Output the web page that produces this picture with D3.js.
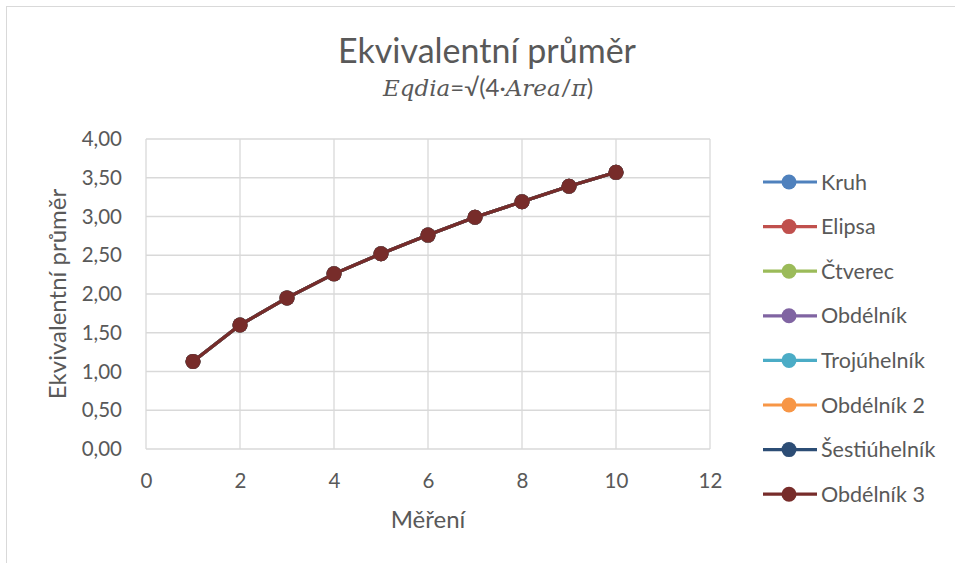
<!DOCTYPE html>
<html><head><meta charset="utf-8">
<script src="https://cdn.jsdelivr.net/npm/d3@7"></script>
<style>html,body{margin:0;padding:0;background:#fff;}svg{display:block;}</style>
</head><body>
<script>
const seriesNames = ["Kruh","Elipsa","Čtverec","Obdélník","Trojúhelník","Obdélník 2","Šestiúhelník","Obdélník 3"];
const seriesColors = ["#4F81BD","#C0504D","#9BBB59","#8064A2","#4BACC6","#F79646","#2C4D75","#772C2A"];
const measurements = [1,2,3,4,5,6,7,8,9,10];
const kruh        = [1.13,1.60,1.95,2.26,2.52,2.76,2.99,3.19,3.39,3.57];
const elipsa      = [1.13,1.60,1.95,2.26,2.52,2.76,2.99,3.19,3.39,3.57];
const ctverec     = [1.13,1.60,1.95,2.26,2.52,2.76,2.99,3.19,3.39,3.57];
const obdelnik    = [1.13,1.60,1.95,2.26,2.52,2.76,2.99,3.19,3.39,3.57];
const trojuhelnik = [1.13,1.60,1.95,2.26,2.52,2.76,2.99,3.19,3.39,3.57];
const obdelnik2   = [1.13,1.60,1.95,2.26,2.52,2.76,2.99,3.19,3.39,3.57];
const sestiuhelnik= [1.13,1.60,1.95,2.26,2.52,2.76,2.99,3.19,3.39,3.57];
const obdelnik3   = [1.13,1.60,1.95,2.26,2.52,2.76,2.99,3.19,3.39,3.57];
const xTicks = [0,2,4,6,8,10,12];
const yTicks = [0,0.5,1,1.5,2,2.5,3,3.5,4];
const allValues = [kruh,elipsa,ctverec,obdelnik,trojuhelnik,obdelnik2,sestiuhelnik,obdelnik3];

const W=955,H=563;
const font = "Lato, 'Open Sans', sans-serif";
const textCol = "#595959";
const svg = d3.select("body").append("svg").attr("width",W).attr("height",H);
svg.append("rect").attr("x",6.5).attr("y",6.5).attr("width",W).attr("height",H)
  .attr("fill","#fff").attr("stroke","#d9d9d9").attr("stroke-width",1);

const x = d3.scaleLinear().domain([0,12]).range([146,710]);
const y = d3.scaleLinear().domain([0,4]).range([449,139]);

// grid
const g = svg.append("g");
g.selectAll(".hg").data(yTicks).join("line")
  .attr("x1",x(0)).attr("x2",x(12)).attr("y1",d=>y(d)).attr("y2",d=>y(d))
  .attr("stroke","#d9d9d9").attr("stroke-width",1.3);
g.selectAll(".vg").data(xTicks).join("line")
  .attr("y1",y(0)).attr("y2",y(4)).attr("x1",d=>x(d)).attr("x2",d=>x(d))
  .attr("stroke","#d9d9d9").attr("stroke-width",1.3);

// axes
const yAxis = d3.axisLeft(y).tickValues(yTicks).tickSize(0).tickPadding(24)
  .tickFormat(d=>d3.format(".2f")(d).replace(".",","));
const ya = svg.append("g").attr("transform",`translate(${x(0)},0)`).call(yAxis);
ya.select(".domain").remove();
ya.selectAll("text").attr("fill",textCol).style("font-family",font).style("font-size","20.5px");

const xAxis = d3.axisBottom(x).tickValues(xTicks).tickSize(0).tickPadding(24);
const xa = svg.append("g").attr("transform",`translate(0,${y(0)})`).call(xAxis);
xa.select(".domain").remove();
xa.selectAll("text").attr("fill",textCol).style("font-family",font).style("font-size","20.5px");

// lines
const line = d3.line().x((d,i)=>x(measurements[i])).y(d=>y(d));
allValues.forEach((vals,si)=>{
  const sg = svg.append("g");
  sg.append("path").datum(vals).attr("d",line).attr("fill","none")
    .attr("stroke",seriesColors[si]).attr("stroke-width",3.2).attr("stroke-linejoin","round");
  sg.selectAll("circle").data(vals).join("circle")
    .attr("cx",(d,i)=>x(measurements[i])).attr("cy",d=>y(d)).attr("r",7.5)
    .attr("fill",seriesColors[si]);
});

// titles
svg.append("text").attr("x",487).attr("y",63).attr("text-anchor","middle")
  .attr("fill",textCol).style("font-family",font).style("font-size","34px").text("Ekvivalentní průměr");
const sub = svg.append("text").attr("x",488).attr("y",96).attr("text-anchor","middle")
  .attr("fill",textCol).style("font-size","24px");
const serif = "'DejaVu Serif', 'Liberation Serif', serif";
sub.append("tspan").style("font-family",serif).style("font-style","italic").style("font-size","23px").text("Eqdia");
sub.append("tspan").style("font-family",font).text("=√(4·");
sub.append("tspan").style("font-family",serif).style("font-style","italic").style("font-size","23px").text("Area");
sub.append("tspan").style("font-family",font).text("/");
sub.append("tspan").style("font-family",serif).style("font-style","italic").style("font-size","23px").text("π");
sub.append("tspan").style("font-family",font).text(")");

svg.append("text").attr("x",428).attr("y",528).attr("text-anchor","middle")
  .attr("fill",textCol).style("font-family",font).style("font-size","24px").text("Měření");
svg.append("text").attr("transform","translate(66,294) rotate(-90)").attr("text-anchor","middle")
  .attr("fill",textCol).style("font-family",font).style("font-size","24px").text("Ekvivalentní průměr");

// legend
const leg = svg.append("g");
seriesNames.forEach((n,i)=>{
  const ly = 182 + i*44.6;
  leg.append("line").attr("x1",763).attr("x2",817).attr("y1",ly).attr("y2",ly)
    .attr("stroke",seriesColors[i]).attr("stroke-width",3.2);
  leg.append("circle").attr("cx",789).attr("cy",ly).attr("r",7.5).attr("fill",seriesColors[i]);
  leg.append("text").attr("x",821).attr("y",ly).attr("dy","0.35em")
    .attr("fill",textCol).style("font-family",font).style("font-size","21.5px").text(n);
});
</script>
</body></html>
